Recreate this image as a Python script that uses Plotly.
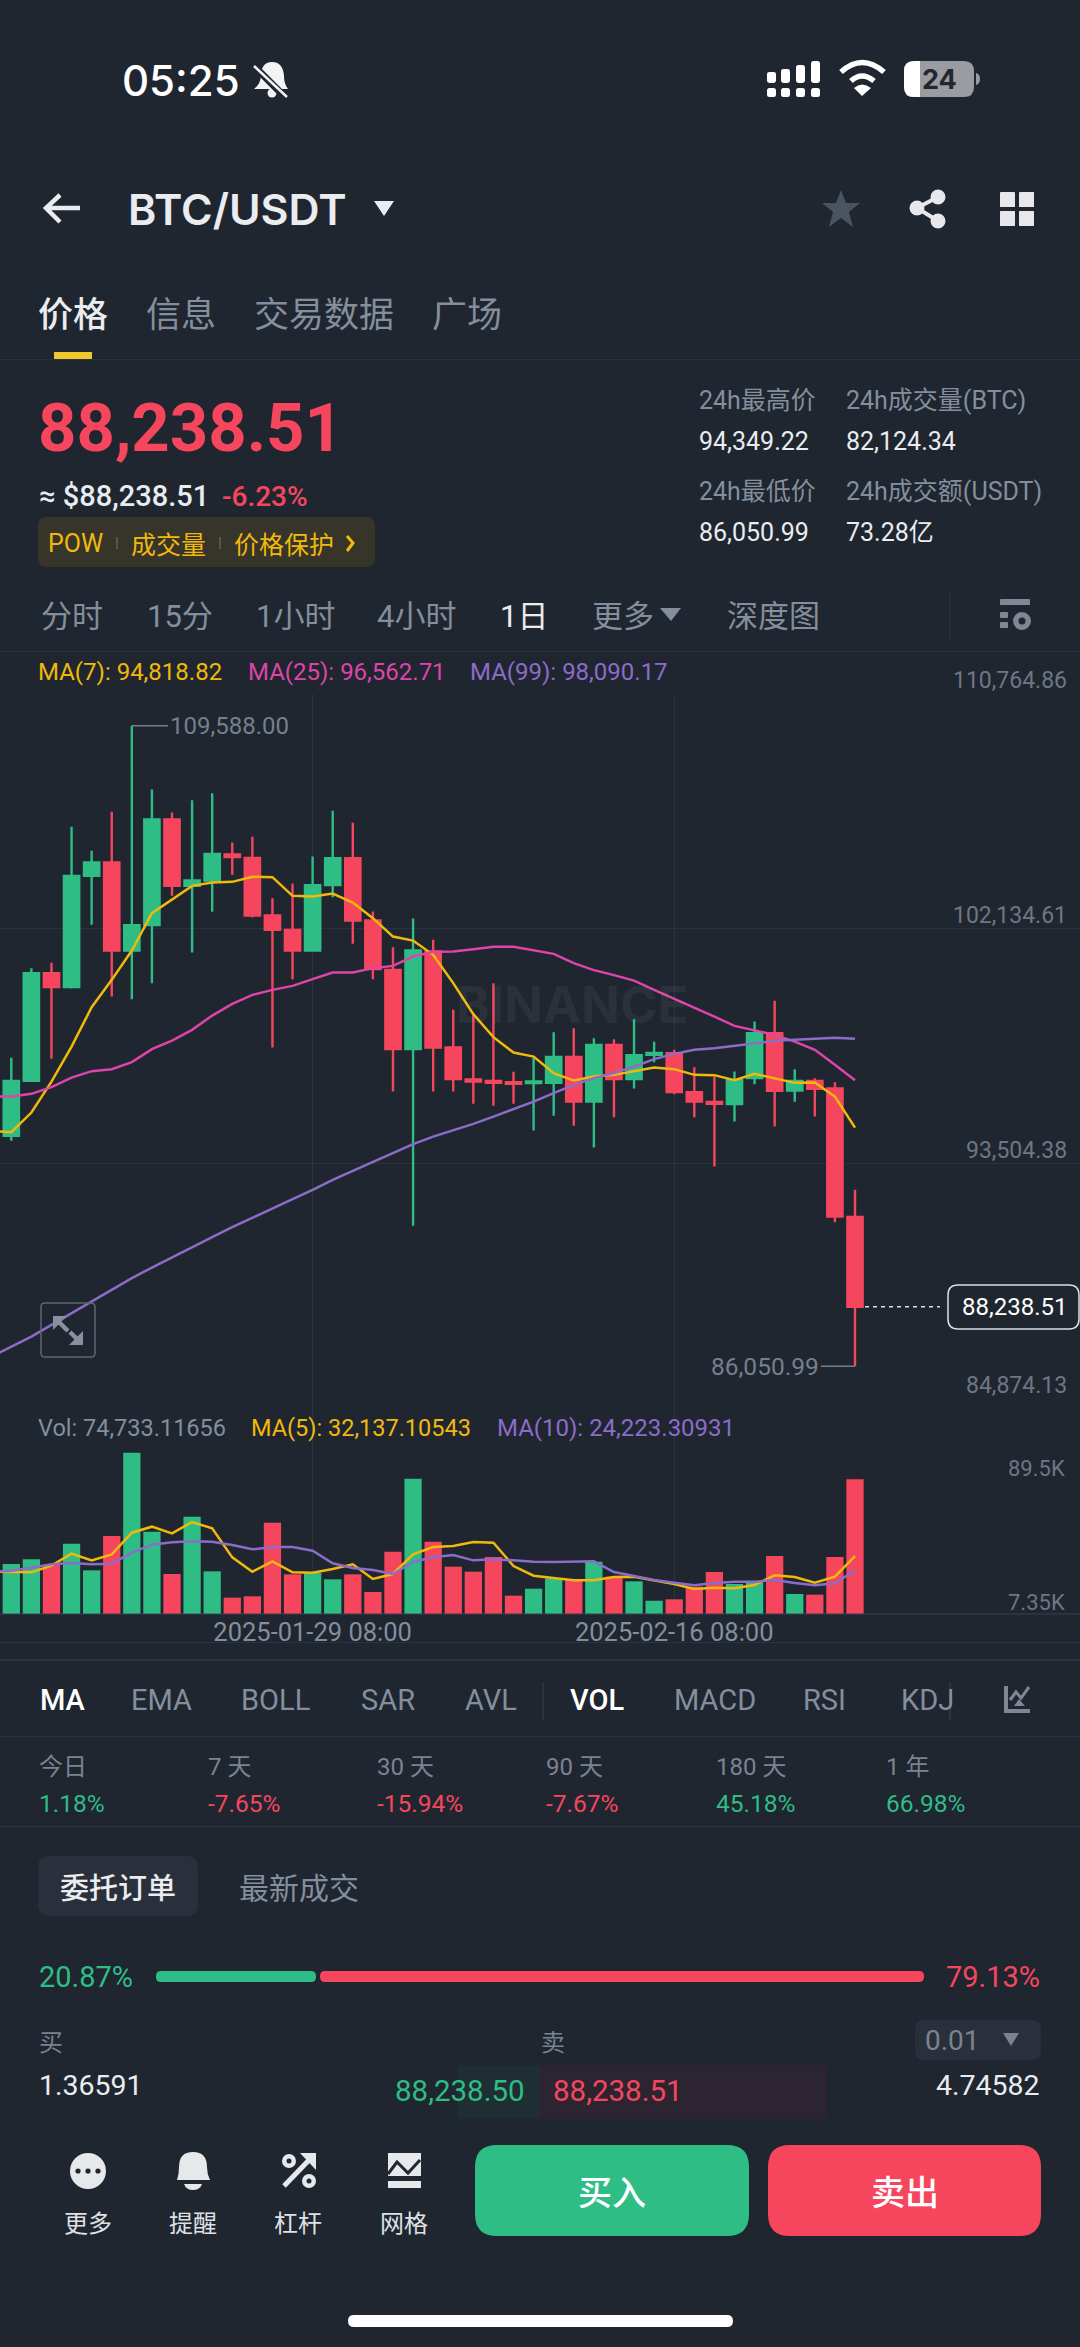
import re
import plotly.graph_objects as go

W, H = 1080, 2347
BG = '#1F2630'
GREEN = '#2EBD85'
RED = '#F6465D'
YELLOW = '#F0B90B'
PINK = '#DE45A8'
PURPLE = '#8B6CC9'
GRAY = '#848E9C'
LIGHT = '#EAECEF'
GRID = '#2C333E'
FONT = 'Roboto, Noto Sans CJK SC, sans-serif'
CJK = 'Noto Sans CJK SC, Roboto, sans-serif'

# daily candles, 2025-01-14 ... 2025-02-25
opens = [94518, 96539, 100496, 99982, 104071, 104560, 101327, 102260, 106140, 103704, 103899,
         104854, 104733, 102613, 102087, 101327, 103730, 104722, 102429, 100617, 97703, 101290,
         97762, 96586, 96539, 96491, 96454, 96465, 97421, 95778, 97861, 96601, 97494, 97557,
         96123, 95767, 95683, 96638, 98291, 96182, 96539, 96256, 91541]
highs = [97384, 100680, 100875, 105872, 104990, 106423, 109588, 107243, 106397, 106853, 107110,
         105295, 105504, 103252, 103788, 104781, 106460, 106019, 102760, 101451, 102502, 101720,
         99148, 98964, 100129, 96869, 97384, 98328, 98475, 98108, 98071, 98806, 97972, 97678,
         97042, 96697, 96880, 98718, 99478, 96969, 96638, 96491, 92533]
lows = [94334, 96502, 97347, 99930, 102271, 99636, 99541, 100129, 103336, 101253, 102749,
        104108, 102539, 97762, 100276, 101327, 103289, 101573, 100276, 96145, 91211, 96145,
        96145, 95694, 95620, 95694, 94712, 95253, 94885, 94088, 95205, 96256, 97226, 96050,
        95205, 93390, 95043, 96417, 94859, 95767, 95227, 91347, 86050.99]
closes = [96539, 100496, 99982, 104071, 104560, 101327, 102260, 106140, 103704, 103899, 104880,
          104758, 102613, 102087, 101327, 103730, 104722, 102429, 100643, 97703, 101327, 97762,
          96601, 96513, 96465, 96428, 96513, 97421, 95778, 97861, 96601, 97483, 97568, 96123,
          95778, 95694, 96575, 98291, 96171, 96539, 96245, 91552, 88238.51]
volumes = [27735, 30324, 27180, 39014, 24222, 43267, 89500, 45670, 22188, 53990, 23667,
           9060, 9800, 50663, 22003, 22928, 19230, 22003, 12203, 34576, 75069, 40123,
           26256, 23482, 31618, 10170, 14052, 19784, 18860, 29029, 20709, 18120, 7350, 8136,
           15162, 23297, 16641, 17381, 32173, 11094, 10724, 31618, 74733.11656]

# moving averages start one day before the first visible candle
ma7 = [94701, 94654, 95374, 96513, 97799, 99247, 100250, 101327, 102701, 103215, 103704, 103825,
       103851, 104035, 104024, 103336, 103311, 103421, 103090, 102517, 101841, 101694, 101169,
       100129, 98990, 98144, 97579, 97432, 96822, 96550, 96697, 96759, 96880, 97027, 96969,
       96759, 96748, 96564, 96796, 96623, 96465, 96476, 95962, 94818.82]
ma25 = [95969, 95962, 96061, 96307, 96660, 96895, 96969, 97226, 97703, 98019, 98413, 98938,
        99368, 99699, 99882, 100029, 100276, 100518, 100518, 100680, 100764, 101106, 101279,
        101290, 101378, 101462, 101462, 101327, 101205, 100863, 100606, 100423, 100224, 99882,
        99563, 99247, 98901, 98560, 98387, 98229, 97983, 97678, 97127, 96562.71]
ma99 = [86397, 86775, 87143, 87573, 88003, 88429, 88859, 89289, 89678, 90060, 90428, 90795,
        91163, 91515, 91861, 92192, 92533, 92901, 93232, 93551, 93882, 94213, 94492, 94712,
        94959, 95227, 95499, 95778, 96087, 96392, 96638, 96822, 97064, 97336, 97531, 97678,
        97740, 97836, 97909, 98008, 98045, 98093, 98119, 98090.17]
vol_ma5 = [23482, 23482, 23113, 26811, 33467, 29769, 33097, 45116, 48444, 44746, 51032, 47519,
           31433, 23482, 29214, 23113, 22928, 24962, 27550, 19415, 22188, 33097, 37165, 37720,
           39938, 39569, 26626, 21264, 19969, 18675, 18675, 20524, 20709, 18490, 16641, 13868,
           14607, 14237, 16086, 21448, 20524, 17381, 20709, 32137.10543]
vol_ma10 = [23482, 24037, 25701, 27550, 28290, 27550, 27920, 34022, 38459, 39754, 40308, 40123,
            38274, 35871, 37165, 37165, 35131, 28105, 25516, 24407, 22188, 28844, 31433, 32727,
            29769, 30324, 29769, 29029, 28844, 29029, 29214, 23297, 21079, 18860, 17381, 15901,
            17196, 17935, 17935, 18860, 17196, 15901, 17011, 24223.30931]

price_ticks = [110764.86, 102134.61, 93504.38, 84874.13]
price_tick_labels = ['110,764.86', '102,134.61', '93,504.38', '84,874.13']
vol_ticks = [89500, 7350]
vol_tick_labels = ['89.5K', '7.35K']
date_ticks = [15, 33]
date_tick_labels = ['2025-01-29 08:00', '2025-02-16 08:00']

days = list(range(len(closes)))
ma_days = list(range(-1, len(closes)))
vol_colors = [GREEN if c >= o else RED for o, c in zip(opens, closes)]


def px(x):
    return x / W


def py(y):
    return 1 - y / H


def path(cmds):
    # pixel path string -> paper coordinates
    out, is_x = [], True
    for tok in re.findall(r'[A-Za-z]|-?[\d.]+', cmds):
        if tok.isalpha():
            out.append(tok)
            is_x = True
        else:
            out.append(f'{px(float(tok)):.5f}' if is_x else f'{py(float(tok)):.5f}')
            is_x = not is_x
    return ' '.join(out)


shapes = []
annotations = []


def fill_path(cmds, fill):
    shapes.append(dict(type='path', xref='paper', yref='paper', path=path(cmds),
                       fillcolor=fill, line=dict(width=0)))


def stroke(cmds, color, width=2, dash=None):
    shapes.append(dict(type='path', xref='paper', yref='paper', path=path(cmds),
                       line=dict(color=color, width=width, dash=dash)))


def rrect(x0, y0, x1, y1, r, fill=None, line=None, lw=0):
    d = (f'M {x0+r} {y0} L {x1-r} {y0} Q {x1} {y0} {x1} {y0+r} L {x1} {y1-r} Q {x1} {y1} {x1-r} {y1} '
         f'L {x0+r} {y1} Q {x0} {y1} {x0} {y1-r} L {x0} {y0+r} Q {x0} {y0} {x0+r} {y0} Z')
    shapes.append(dict(type='path', xref='paper', yref='paper', path=path(d),
                       fillcolor=fill or 'rgba(0,0,0,0)', line=dict(color=line or fill, width=lw)))


def circle(cx, cy, r, fill):
    shapes.append(dict(type='circle', xref='paper', yref='paper', x0=px(cx-r), x1=px(cx+r),
                       y0=py(cy+r), y1=py(cy-r), fillcolor=fill, line=dict(width=0)))


def hline(y, color=GRID, x0=0, x1=W, width=1):
    stroke(f'M {x0} {y} L {x1} {y}', color, width)


def txt(x, y, s, size, color=GRAY, anchor='left', weight=400, family=FONT):
    if anchor == 'left':
        x -= 1.5
    annotations.append(dict(x=px(x), y=py(y), xref='paper', yref='paper', text=s, showarrow=False,
                            xanchor=anchor, yanchor='middle', borderpad=0,
                            font=dict(size=size, color=color, family=family, weight=weight)))


# status bar
txt(122, 80, '05:25', 42, '#FFFFFF', weight=500, family='Inter, sans-serif')
fill_path('M 254 89 Q 261 84 261 74 Q 262 62 272 62 Q 283 62 284 76 Q 284 84 288 89 Z', '#F2F3F5')
circle(272, 93, 4.5, '#F2F3F5')
stroke('M 254 66 L 286 98', BG, 7)
stroke('M 254 66 L 287 97', '#F2F3F5', 2.5)
for bx, top in zip([767, 781, 796, 811], [72, 69, 65, 61]):
    rrect(bx, 88, bx+9, 97, 2.5, '#FFFFFF')
    rrect(bx, top, bx+9, 83, 2.5, '#FFFFFF')
stroke('M 841 72 Q 862 53 884 72', '#FFFFFF', 5.5)
stroke('M 851 81 Q 862 71 874 81', '#FFFFFF', 5.5)
fill_path('M 854 88 Q 862 81 871 88 L 862 96 Z', '#FFFFFF')
rrect(904, 61, 974, 97, 10, '#9A9CA1')
fill_path('M 920 61 L 914 61 Q 904 61 904 71 L 904 87 Q 904 97 914 97 L 920 97 Z', '#FFFFFF')
fill_path('M 976 73 Q 980 74 980 79 Q 980 84 976 85 Z', '#9A9CA1')
txt(939, 79, '24', 27, '#22262E', 'center', 700, 'Inter, sans-serif')

# header
stroke('M 80 208 L 47 208 M 60 195 L 46 208 L 60 222', '#EAECEF', 4.5)
txt(128, 209, 'BTC/USDT', 43, LIGHT, weight=600, family='Inter, sans-serif')
fill_path('M 374 201 L 394 201 L 384 216 Z', LIGHT)
fill_path('M 841 190 L 846 203 L 860 203 L 849 212 L 853 227 L 841 218 L 829 227 L 833 212 L 822 203 L 836 203 Z', '#4A5361')
stroke('M 938 197 L 917 208 L 938 221', '#E6E8EE', 4)
for cy, cx in [(197, 938), (208, 917), (221, 938)]:
    circle(cx, cy, 7.5, '#E6E8EE')
for bx, by in [(1000, 192), (1019, 192), (1000, 211), (1019, 211)]:
    rrect(bx, by, bx+15, by+15, 0.5, '#E6E8EE')

# tabs
for x, s, c, w in [(38, '价格', LIGHT, 500), (146, '信息', GRAY, 400), (254, '交易数据', GRAY, 400), (432, '广场', GRAY, 400)]:
    txt(x, 311, s, 35, c, weight=w, family=CJK)
hline(359.5)
rrect(54, 352, 92, 359, 0.5, '#F0C92E')

# price block
txt(38, 428, '88,238.51', 67, RED, weight=700, family='Roboto, sans-serif')
txt(39, 496, '≈ $88,238.51', 29, LIGHT, weight=500)
txt(222, 496, '-6.23%', 28, RED, weight=500)
rrect(38, 517, 375, 567, 9, '#37342A')
txt(48, 543, 'POW', 25, YELLOW)
txt(131, 543, '成交量', 25, YELLOW, family=CJK)
txt(234, 543, '价格保护', 25, YELLOW, family=CJK)
stroke('M 117 537 L 117 549', '#5A5440', 2)
stroke('M 220 537 L 220 549', '#5A5440', 2)
stroke('M 347 536 L 353 543 L 347 551', YELLOW, 3)
for x, label, val in [(699, '24h最高价', '94,349.22'), (846, '24h成交量(BTC)', '82,124.34')]:
    txt(x, 400, label, 25, GRAY)
    txt(x, 441, val, 25, LIGHT)
for x, label, val in [(699, '24h最低价', '86,050.99'), (846, '24h成交额(USDT)', '73.28亿')]:
    txt(x, 491, label, 25, GRAY)
    txt(x, 532, val, 25, LIGHT)

# interval row
for x, s, c in [(41, '分时', GRAY), (147, '15分', GRAY), (256, '1小时', GRAY), (377, '4小时', GRAY),
                (500, '1日', LIGHT), (592, '更多', GRAY), (727, '深度图', GRAY)]:
    txt(x, 616, s, 31, c)
fill_path('M 660 608 L 681 608 L 671 621 Z', GRAY)
stroke('M 950 590 L 950 640', GRID, 1)
rrect(1000, 599, 1030, 605, 0.5, '#7F8694')
rrect(1000, 612, 1008, 618, 0.5, '#7F8694')
rrect(1000, 622, 1008, 628, 0.5, '#7F8694')
circle(1022, 621, 9, '#7F8694')
circle(1022, 621, 3.5, BG)
hline(651.5)

# indicator headers
txt(38, 672, 'MA(7): 94,818.82', 24, YELLOW)
txt(248, 672, 'MA(25): 96,562.71', 24, PINK)
txt(470, 672, 'MA(99): 98,090.17', 24, PURPLE)
txt(38, 1428, 'Vol: 74,733.11656', 23.5, GRAY)
txt(251, 1428, 'MA(5): 32,137.10543', 23.5, YELLOW)
txt(497, 1428, 'MA(10): 24,223.30931', 24, PURPLE)

# tick labels sit just above their grid lines
for v, s in zip(price_ticks, price_tick_labels):
    annotations.append(dict(x=1, y=v, xref='paper', yref='y', text=s, showarrow=False, xanchor='right',
                            xshift=-11, yshift=13, font=dict(size=23, color='#6F7683', family=FONT)))
for v, s in zip(vol_ticks, vol_tick_labels):
    annotations.append(dict(x=1, y=v, xref='paper', yref='y2', text=s, showarrow=False, xanchor='right',
                            xshift=-13, yshift=-16 if v == 89500 else -2, font=dict(size=22, color='#6F7683', family=FONT)))

# watermark, expand button
txt(456, 1005, 'BINANCE', 51, 'rgba(255,255,255,0.05)', weight=700, family='Inter, sans-serif')
rrect(41, 1303, 95, 1357, 4, None, '#5F6673', 1.5)
fill_path('M 53 1316 L 67 1316 L 53 1330 Z', '#8A8FA0')
stroke('M 58 1321 L 68 1331', '#8A8FA0', 4.5)
fill_path('M 83 1345 L 69 1345 L 83 1331 Z', '#8A8FA0')
stroke('M 78 1340 L 70 1332', '#8A8FA0', 4.5)

# high / low markers
annotations.append(dict(x=7.85, y=109588, xref='x', yref='y', text='109,588.00', showarrow=False, xanchor='left',
                        xshift=-1, font=dict(size=24, color='#787F8C', family=FONT)))
shapes.append(dict(type='line', xref='x', yref='y', x0=6, x1=7.8, y0=109588, y1=109588, line=dict(color='#787F8C', width=1.5)))
annotations.append(dict(x=40, y=86050.99, xref='x', yref='y', text='86,050.99', showarrow=False, xanchor='right',
                        xshift=6, font=dict(size=24.5, color='#787F8C', family=FONT)))
shapes.append(dict(type='line', xref='x', yref='y', x0=40.3, x1=42, y0=86050.99, y1=86050.99, line=dict(color='#787F8C', width=1.5)))

# last price tag
shapes.append(dict(type='line', xref='paper', yref='y', x0=px(865), x1=px(940), y0=88238.51, y1=88238.51,
                   line=dict(color='#DDE0E4', width=1.5, dash='4px,4px')))
rrect(948, 1285, 1079, 1329, 10, BG, '#DDE0E4', 1.5)
annotations.append(dict(x=px(1014), y=88238.51, xref='paper', yref='y', text='88,238.51', showarrow=False,
                        xanchor='center', font=dict(size=24, color='#FFFFFF', family=FONT)))

# rows under the chart
hline(1614, '#3A414C')
hline(1642.5)
hline(1660, '#3A414C')
for x, s, c, w in [(40, 'MA', '#FFFFFF', 500), (131, 'EMA', GRAY, 400), (241, 'BOLL', GRAY, 400), (361, 'SAR', GRAY, 400),
                   (465, 'AVL', GRAY, 400), (570, 'VOL', '#FFFFFF', 500), (674, 'MACD', GRAY, 400), (803, 'RSI', GRAY, 400),
                   (901, 'KDJ', GRAY, 400)]:
    txt(x, 1700, s, 29, c, weight=w)
stroke('M 543 1682 L 543 1720', '#3A414C', 1)
stroke('M 950 1682 L 950 1720', '#3A414C', 1)
stroke('M 1006 1686 L 1006 1711 L 1030 1711', '#7F8694', 4)
stroke('M 1010 1700 L 1016 1692 L 1021 1698 L 1029 1687', '#7F8694', 3)
fill_path('M 1014 1706 L 1019 1699 L 1025 1706 Z', '#7F8694')
hline(1736.5)
for x, s, val, c in [(39, '今日', '1.18%', GREEN), (208, '7 天', '-7.65%', RED), (377, '30 天', '-15.94%', RED),
                     (547, '90 天', '-7.67%', RED), (716, '180 天', '45.18%', GREEN), (886, '1 年', '66.98%', GREEN)]:
    txt(x, 1767, s, 24, '#7B8290')
    txt(x, 1803, val, 24.5, c)
hline(1826.5)

# order book
rrect(38, 1856, 198, 1916, 12, '#2A303B')
txt(118, 1886, '委托订单', 29, LIGHT, 'center', 500, CJK)
txt(239, 1886, '最新成交', 30, GRAY, family=CJK)
txt(39, 1977, '20.87%', 29, GREEN)
txt(1041, 1977, '79.13%', 29, RED, 'right')
rrect(156, 1971, 316, 1982, 5, GREEN)
rrect(320, 1971, 924, 1982, 5, RED)
txt(39, 2040, '买', 24, '#7B8290', family=CJK)
txt(541, 2040, '卖', 24, '#7B8290', family=CJK)
rrect(915, 2020, 1041, 2060, 9, '#2A303B')
txt(925, 2040, '0.01', 28, '#7B8290')
fill_path('M 1003 2033 L 1019 2033 L 1011 2046 Z', '#7B8290')
txt(39, 2085, '1.36591', 28.5, LIGHT)
txt(1041, 2085, '4.74582', 28.5, LIGHT, 'right')
rrect(457, 2065, 540, 2119, 0.5, '#1F2E33')
rrect(540, 2065, 827, 2119, 0.5, '#2C2430')
txt(526, 2091, '88,238.50', 29.5, GREEN, 'right')
txt(553, 2091, '88,238.51', 29.5, RED)

# bottom bar
circle(88, 2171, 18, '#E6E8EC')
for cx in [78, 88, 98]:
    circle(cx, 2171, 2.6, BG)
fill_path('M 177 2180 Q 179 2174 179 2167 Q 179 2152 193 2152 Q 207 2152 207 2167 Q 207 2174 210 2180 Z', '#E6E8EC')
fill_path('M 184 2184 L 202 2184 Q 200 2190 193 2190 Q 186 2190 184 2184 Z', '#E6E8EC')
fill_path('M 300 2153 L 316 2153 L 316 2170 Z', '#E6E8EC')
stroke('M 284 2186 L 311 2158', '#E6E8EC', 5)
circle(289, 2161, 7, '#E6E8EC')
circle(289, 2161, 2.5, BG)
circle(309, 2181, 7, '#E6E8EC')
circle(309, 2181, 2.5, BG)
rrect(388, 2153, 421, 2176, 0.5, '#E6E8EC')
rrect(388, 2181, 421, 2188, 0.5, '#E6E8EC')
stroke('M 388 2174 L 397 2162 L 408 2173 L 420 2160', BG, 3)
for cx, s in [(88, '更多'), (193, '提醒'), (298, '杠杆'), (404, '网格')]:
    txt(cx, 2221, s, 24, '#DFE1E5', 'center', family=CJK)
rrect(475, 2145, 749, 2236, 22, GREEN)
rrect(768, 2145, 1041, 2236, 22, RED)
txt(612, 2190, '买入', 34, '#FFFFFF', 'center', 500, CJK)
txt(905, 2190, '卖出', 34, '#FFFFFF', 'center', 500, CJK)
rrect(348, 2315, 733, 2327, 6, '#FFFFFF')

fig = go.Figure()
fig.add_trace(go.Candlestick(
    x=days, open=opens, high=highs, low=lows, close=closes,
    increasing=dict(line=dict(color=GREEN, width=2.4), fillcolor=GREEN),
    decreasing=dict(line=dict(color=RED, width=2.4), fillcolor=RED),
    whiskerwidth=0, xaxis='x', yaxis='y', showlegend=False,
))
for vals, color in [(ma7, YELLOW), (ma25, PINK), (ma99, PURPLE)]:
    fig.add_trace(go.Scatter(x=ma_days, y=vals, mode='lines', line=dict(color=color, width=2.5),
                             xaxis='x', yaxis='y', showlegend=False))
fig.add_trace(go.Bar(x=days, y=volumes, marker=dict(color=vol_colors, line=dict(width=0)), width=0.86,
                     xaxis='x2', yaxis='y2', showlegend=False))
for vals, color in [(vol_ma5, YELLOW), (vol_ma10, PURPLE)]:
    fig.add_trace(go.Scatter(x=ma_days, y=vals, mode='lines', line=dict(color=color, width=2.5),
                             xaxis='x2', yaxis='y2', showlegend=False))

x_range = [-0.5625, 53.2]
fig.update_layout(
    width=W, height=H, margin=dict(l=0, r=0, t=0, b=0, pad=0), autosize=False,
    paper_bgcolor=BG, plot_bgcolor=BG, showlegend=False, boxgap=0.24, boxgroupgap=0,
    font=dict(family=FONT, color=GRAY),
    xaxis=dict(domain=[0, 1], range=x_range, tickmode='array', tickvals=date_ticks, showticklabels=False,
               showgrid=True, gridcolor=GRID, gridwidth=1, zeroline=False, showline=False,
               rangeslider=dict(visible=False), anchor='y'),
    yaxis=dict(domain=[py(1398.3), py(693.7)], range=[84874.13, 110764.86], tickmode='array', tickvals=price_ticks,
               showticklabels=False, showgrid=True, gridcolor=GRID, gridwidth=1, zeroline=False, showline=False, anchor='x'),
    xaxis2=dict(domain=[0, 1], range=x_range, tickmode='array', tickvals=date_ticks, ticktext=date_tick_labels,
                showgrid=True, gridcolor=GRID, gridwidth=1, zeroline=False, showline=False, ticks='', ticklabelstandoff=0,
                tickfont=dict(size=25.5, color='#848E9C', family=FONT), anchor='y2', tickangle=0),
    yaxis2=dict(domain=[py(1614), py(1398.3)], range=[0, 119670], showticklabels=False, showgrid=False,
                zeroline=False, showline=False, anchor='x2'),
    shapes=shapes, annotations=annotations,
)

fig.write_html('out.html', config=dict(displayModeBar=False),
               post_script="document.body.style.margin='0';document.body.style.background='#1F2630';")
